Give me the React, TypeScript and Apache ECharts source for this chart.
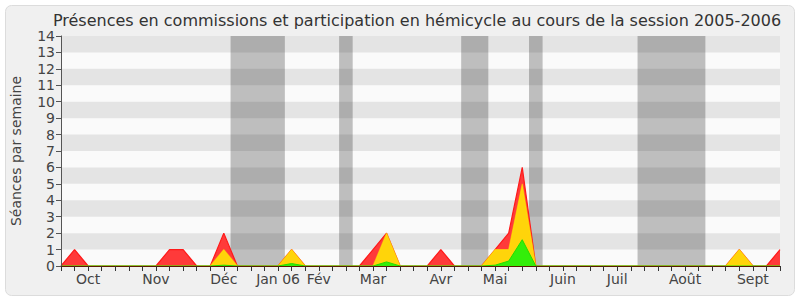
import React, { useEffect, useRef } from "react";
import * as echarts from "echarts";

const weeks: number[] = Array.from({ length: 54 }, (_, i) => i);
// month label at given week index
const monthLabelWeeks = [2, 7, 12, 16, 19, 23, 28, 32, 37, 41, 46, 51];
const monthLabels = ["Oct", "Nov", "Déc", "Jan 06", "Fév", "Mar", "Avr", "Mai", "Juin", "Juil", "Août", "Sept"];

const redValues = [
  0, 1, 0, 0, 0, 0, 0, 0, 1, 1,
  0, 0, 2, 0, 0, 0, 0, 1, 0, 0,
  0, 0, 0, 1, 2, 0, 0, 0, 1, 0,
  0, 0, 1, 2, 6, 0, 0, 0, 0, 0,
  0, 0, 0, 0, 0, 0, 0, 0, 0, 0,
  1, 0, 0, 1,
];
const yellowValues = [
  0, 0, 0, 0, 0, 0, 0, 0, 0, 0,
  0, 0, 1, 0, 0, 0, 0, 1, 0, 0,
  0, 0, 0, 0, 2, 0, 0, 0, 0, 0,
  0, 0, 1, 1, 5, 0, 0, 0, 0, 0,
  0, 0, 0, 0, 0, 0, 0, 0, 0, 0,
  1, 0, 0, 0,
];
const greenValues = [
  0, 0, 0, 0, 0, 0, 0, 0, 0, 0,
  0, 0, 0.05, 0, 0, 0, 0, 0.15, 0, 0,
  0, 0, 0, 0, 0.25, 0, 0, 0, 0, 0,
  0, 0, 0.05, 0.3, 1.6, 0, 0, 0, 0, 0,
  0, 0, 0, 0, 0, 0, 0, 0, 0, 0,
  0, 0, 0, 0,
];
// vacation periods (in week units)
const vacationStarts = [12.5, 20.5, 29.5, 34.5, 42.5];
const vacationEnds = [16.5, 21.5, 31.5, 35.5, 47.5];
const yMax = 14;

const FONT = "DejaVu Sans";

export default function App() {
  const ref = useRef<HTMLDivElement>(null);
  useEffect(() => {
    if (!ref.current) return;
    const chart = echarts.init(ref.current, undefined, { renderer: "svg" });
    const toPairs = (vals: number[]) => weeks.map((w, i) => [w, vals[i]]);
    const stripes: any[] = [];
    for (let y = 1; y < yMax; y += 2) stripes.push([{ yAxis: y }, { yAxis: y + 1 }]);
    const vac = vacationStarts.map((s, i) => [{ xAxis: s }, { xAxis: vacationEnds[i] }]);

    chart.setOption({
      animation: false,
      textStyle: { fontFamily: FONT },
      graphic: [
        {
          type: "rect",
          z: -10,
          shape: { x: 5.5, y: 5.5, width: 789, height: 290, r: 6 },
          style: { fill: "#f0f0f0", stroke: "#dcdcdc", lineWidth: 1 },
        },
      ],
      title: {
        text: "Présences en commissions et participation en hémicycle au cours de la session 2005-2006",
        left: 412,
        textAlign: "center",
        top: 7,
        textStyle: { fontFamily: FONT, fontSize: 16, fontWeight: "normal", color: "#333" },
      },
      grid: {
        left: 61,
        right: 20,
        top: 36,
        bottom: 34,
        show: true,
        backgroundColor: "#fafafa",
        borderWidth: 0,
      },
      xAxis: [
        {
          type: "value",
          min: 0,
          max: 53,
          interval: 1,
          z: 10,
          axisLine: { show: true, lineStyle: { color: "#5a1a00", width: 1 } },
          axisTick: { show: true, length: 5, lineStyle: { color: "#333" } },
          splitLine: { show: false },
          axisLabel: {
            fontFamily: FONT,
            fontSize: 14,
            color: "#444",
            margin: 6,
            showMinLabel: true,
            showMaxLabel: true,
            formatter: (v: number) => {
              const k = monthLabelWeeks.indexOf(Math.round(v));
              return k >= 0 ? monthLabels[k] : "";
            },
          },
        },
        {
          type: "value",
          position: "top",
          min: 0,
          max: 53,
          interval: 1,
          axisLine: { show: false },
          axisTick: { show: true, inside: true, length: 1, lineStyle: { color: "#444" } },
          axisLabel: { show: false },
          splitLine: { show: false },
        },
      ],
      yAxis: [
        {
          type: "value",
          min: 0,
          max: yMax,
          interval: 1,
          z: 10,
          name: "Séances par semaine",
          nameLocation: "middle",
          nameGap: 38,
          nameTextStyle: { fontFamily: FONT, fontSize: 14, color: "#444" },
          axisLine: { show: true, lineStyle: { color: "#555" } },
          axisTick: { show: true, length: 5, lineStyle: { color: "#555" } },
          splitLine: { show: false },
          axisLabel: { fontFamily: FONT, fontSize: 14, color: "#444", margin: 6 },
        },
        {
          type: "value",
          position: "right",
          min: 0,
          max: yMax,
          interval: 1,
          axisLine: { show: true, lineStyle: { color: "#d0d0d0" } },
          axisTick: { show: false },
          axisLabel: { show: false },
          splitLine: { show: false },
        },
      ],
      series: [
        {
          type: "line",
          data: [],
          z: 1,
          silent: true,
          markArea: {
            silent: true,
            itemStyle: { color: "#bebebe" },
            data: vac,
          },
        },
        {
          type: "line",
          data: [],
          z: 1.5,
          silent: true,
          markArea: {
            silent: true,
            itemStyle: { color: "rgba(0,0,0,0.085)" },
            data: stripes,
          },
        },
        {
          name: "red",
          type: "line",
          z: 3,
          data: toPairs(redValues),
          showSymbol: false,
          lineStyle: { color: "#ff1a1a", width: 1.2 },
          areaStyle: { color: "#ff3a3a", opacity: 1 },
        },
        {
          name: "yellow",
          type: "line",
          z: 4,
          data: toPairs(yellowValues),
          showSymbol: false,
          lineStyle: { color: "rgba(255,235,0,0.55)", width: 1.2 },
          areaStyle: { color: "#ffd40a", opacity: 1 },
        },
        {
          name: "green",
          type: "line",
          z: 5,
          data: toPairs(greenValues),
          showSymbol: false,
          lineStyle: { color: "#22dd00", width: 1 },
          areaStyle: { color: "#33ee0a", opacity: 1 },
        },
      ],
    });
    return () => chart.dispose();
  }, []);
  return (
    <div
      ref={ref}
      style={{ position: "fixed", left: 0, top: 0, width: 800, height: 300, background: "#fff" }}
    />
  );
}
